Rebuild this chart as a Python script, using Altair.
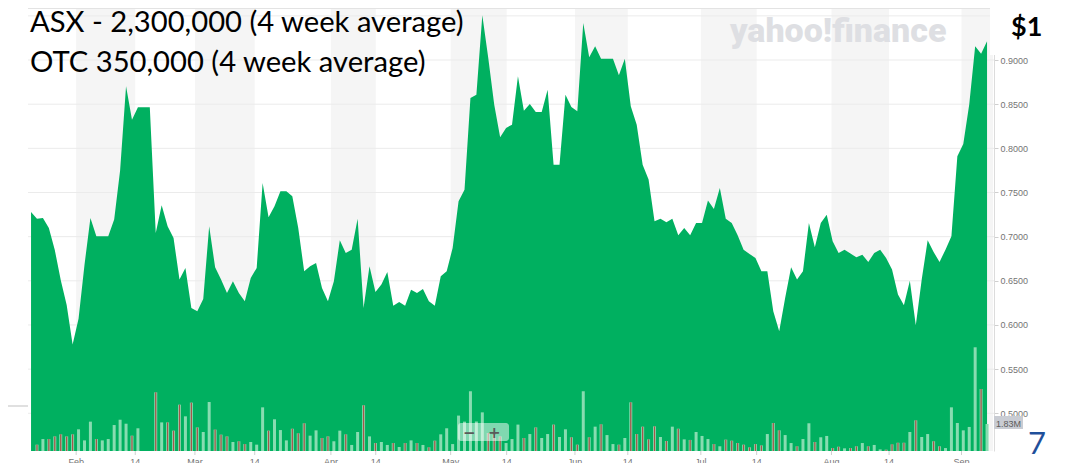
import altair as alt
import pandas as pd

# ---- data (trading-day index, price in $, volume in millions) ----
first_day = -1
prices = [
    0.728, 0.7204, 0.7212, 0.7098, 0.6849, 0.6510, 0.6227, 0.5778, 0.607, 0.668,
    0.7211, 0.7004, 0.7004, 0.7004, 0.7193, 0.7750, 0.8704, 0.8325, 0.8464, 0.8464,
    0.8464, 0.7042, 0.7355, 0.7117, 0.6985, 0.6514, 0.6646, 0.6193, 0.6155, 0.6295,
    0.7117, 0.6653, 0.6514, 0.6363, 0.6495, 0.6363, 0.6268, 0.6532, 0.6646, 0.7608,
    0.7219, 0.7344, 0.7514, 0.7514, 0.7457, 0.7098, 0.6608, 0.6664, 0.6702, 0.6419,
    0.6268, 0.6495, 0.6959, 0.6815, 0.6853, 0.7204, 0.6193, 0.6664, 0.6374, 0.6457,
    0.6600, 0.6219, 0.6261, 0.6219, 0.6400, 0.6363, 0.6408, 0.6268, 0.6219, 0.6551,
    0.6608, 0.6872, 0.7400, 0.7532, 0.8570, 0.8608, 0.9506, 0.9023, 0.8495, 0.8125,
    0.8231, 0.8268, 0.8815, 0.8427, 0.8502, 0.8412, 0.8412, 0.8664, 0.7815, 0.7815,
    0.8608, 0.8468, 0.8419, 0.9419, 0.9030, 0.9155, 0.9015, 0.9015, 0.9015, 0.8827,
    0.9015, 0.8476, 0.8268, 0.7815, 0.7646, 0.7174, 0.7204, 0.7163, 0.7204, 0.7015,
    0.7098, 0.7015, 0.7155, 0.7155, 0.7408, 0.7314, 0.7551, 0.7204, 0.7155, 0.7015,
    0.6853, 0.6804, 0.6759, 0.6608, 0.6608, 0.6155, 0.5929, 0.6306, 0.6653, 0.6514,
    0.6608, 0.7155, 0.6880, 0.7155, 0.7249, 0.6947, 0.6815, 0.6853, 0.6808, 0.6766,
    0.6796, 0.6713, 0.6815, 0.6853, 0.6759, 0.6627, 0.6344, 0.6223, 0.6502, 0.5997,
    0.6514, 0.6959, 0.6827, 0.6713, 0.6853, 0.7004, 0.7910, 0.8049, 0.8495, 0.9155,
    0.9072, 0.9212,
]
volumes_m = [
    0.0, 0.43, 0.81, 0.81, 0.99, 1.13, 0.99, 1.13, 1.47, 0.72,
    1.99, 0.81, 0.72, 0.81, 1.76, 2.12, 1.85, 1.04, 1.54, 0.0,
    0.0, 3.98, 1.94, 1.94, 1.38, 3.14, 2.35, 3.28, 1.60, 1.29,
    3.32, 1.45, 1.11, 0.99, 0.61, 0.66, 0.47, 0.61, 0.43, 2.96,
    1.38, 2.15, 1.42, 0.72, 1.51, 1.20, 1.88, 1.04, 1.40, 0.88,
    0.99, 0.66, 1.38, 1.13, 0.41, 1.29, 3.10, 0.99, 0.54, 0.61,
    0.41, 0.54, 0.27, 0.54, 0.72, 0.54, 0.41, 0.25, 0.70, 1.13,
    1.54, 0.47, 2.40, 1.99, 4.05, 2.00, 2.62, 1.22, 1.10, 0.99,
    0.54, 0.81, 1.79, 0.88, 1.15, 1.60, 0.88, 1.15, 1.79, 0.95,
    1.47, 0.93, 0.43, 4.05, 0.93, 1.65, 1.81, 1.08, 0.47, 0.43,
    0.88, 3.30, 1.15, 1.65, 0.79, 1.67, 0.95, 0.68, 1.65, 1.51,
    0.79, 0.75, 1.29, 1.02, 0.81, 0.47, 0.32, 0.77, 0.70, 0.54,
    0.43, 0.25, 0.47, 0.38, 1.15, 1.90, 1.40, 1.08, 0.54, 0.32,
    0.81, 1.88, 0.61, 0.93, 1.02, 0.20, 0.29, 0.18, 0.20, 0.32,
    0.54, 0.32, 0.41, 0.11, 0.09, 0.45, 0.56, 0.56, 1.29, 2.08,
    0.95, 1.15, 0.66, 0.32, 0.20, 2.96, 1.90, 1.40, 1.63, 7.03,
    4.20, 1.83,
]
tick_days = [6.6, 16.55, 26.6, 36.67, 49.5, 57.05, 69.67, 79.1, 90.6, 99.5,
             111.8, 121.2, 133.8, 143.5, 155.7]
tick_labels = ["Feb", "14", "Mar", "14", "Apr", "14", "May", "14", "Jun", "14",
               "Jul", "14", "Aug", "14", "Sep"]
band_start = [6.6, 26.6, 49.5, 69.67, 90.6, 111.8, 133.8, 155.7]
band_end = [16.55, 36.67, 57.05, 79.1, 99.5, 121.2, 143.5, 161.0]
price_ticks = [0.50, 0.55, 0.60, 0.65, 0.70, 0.75, 0.80, 0.85, 0.90]
grid_prices = [0.50, 0.55, 0.60, 0.65, 0.70, 0.75, 0.80, 0.85, 0.90, 0.95]
x_domain = [-0.67, 160.33]
price_domain = [0.4573, 0.9589]
vol_domain = [0, 30.03]
last_volume_label = "1.83M"
line1 = "ASX - 2,300,000 (4 week average)"
line2 = "OTC 350,000 (4 week average)"

W, H = 966, 443
GREEN = "#00b060"

days = list(range(first_day, first_day + len(prices)))
df = pd.DataFrame({"day": days, "price": prices, "volume": volumes_m})
df["down"] = df["price"] < df["price"].shift(1)
bands = pd.DataFrame({"start": band_start, "end": band_end})
grid = pd.DataFrame({"g": grid_prices})
xticks = pd.DataFrame({"d": tick_days, "lab": tick_labels})

xs = alt.Scale(domain=x_domain, nice=False, zero=False)
ps = alt.Scale(domain=price_domain, nice=False, zero=False)
vs = alt.Scale(domain=vol_domain, nice=False, zero=True)

band_layer = alt.Chart(bands).mark_rect(color="#f5f5f5", clip=True).encode(
    x=alt.X("start:Q", scale=xs, axis=None), x2="end:Q",
    y=alt.value(0), y2=alt.value(H))

grid_layer = alt.Chart(grid).mark_rule(color="#ebebeb", strokeWidth=1).encode(
    y=alt.Y("g:Q", scale=ps, axis=None), x=alt.value(0), x2=alt.value(W))

top_line = alt.Chart(pd.DataFrame({"a": [0]})).mark_rule(color="#e3e3e3").encode(
    y=alt.value(0.5), x=alt.value(0), x2=alt.value(W))

area = alt.Chart(df).mark_area(color=GREEN, clip=True, interpolate="linear").encode(
    x=alt.X("day:Q", scale=xs, axis=None),
    y=alt.Y("price:Q", scale=ps,
            axis=alt.Axis(orient="right", values=price_ticks, format=".4f", title=None,
                          grid=False, tickSize=4, tickColor="#cfcfcf", domainColor="#dcdcdc",
                          labelFont="Liberation Sans", labelFontSize=9, labelColor="#747474",
                          labelPadding=2, labelOverlap=False, labelFlush=False)))

bars = alt.Chart(df).mark_bar(color="#88dcb1", width=3, clip=True).encode(
    x=alt.X("day:Q", scale=xs, axis=None),
    y=alt.Y("volume:Q", scale=vs, axis=None))

down_bars = alt.Chart(df).transform_filter("datum.down").mark_bar(
    color="#a5564a", width=1.3, clip=True).encode(
    x=alt.X("day:Q", scale=xs, axis=None),
    y=alt.Y("volume:Q", scale=vs, axis=None))

# x axis ticks and labels drawn from the tick lists
xtick_marks = alt.Chart(xticks).mark_rule(color="#cfcfcf").encode(
    x=alt.X("d:Q", scale=xs, axis=None), y=alt.value(H), y2=alt.value(H + 4))
xtick_text = alt.Chart(xticks).mark_text(
    align="center", baseline="top", font="Liberation Sans", fontSize=9, color="#747474").encode(
    x=alt.X("d:Q", scale=xs, axis=None), y=alt.value(H + 7), text="lab:N")


def txt(s, x, y, size, color="#000000", font="Lato", weight="normal", **kw):
    return alt.Chart(pd.DataFrame({"t": [s]})).mark_text(
        align="left", baseline="alphabetic", fontSize=size, font=font,
        fontWeight=weight, color=color, **kw).encode(
        text="t:N", x=alt.value(x), y=alt.value(y))


watermark = txt("yahoo!finance", 702, 34, 34, color="#dedfe3", font="Roboto", weight=900)

zoom_box = alt.Chart(pd.DataFrame({"a": [0]})).mark_rect(
    color="#ffffff", opacity=0.5, cornerRadius=3).encode(
    x=alt.value(430), x2=alt.value(481), y=alt.value(415), y2=alt.value(433))
zoom_minus = txt("\u2212", 435, 430, 15, color="#5a5a5a", font="DejaVu Sans", weight="bold")
zoom_plus = txt("+", 460, 430, 15, color="#5a5a5a", font="DejaVu Sans", weight="bold")

vol_box = alt.Chart(pd.DataFrame({"a": [0]})).mark_rect(color="#c9ccd3").encode(
    x=alt.value(966), x2=alt.value(995), y=alt.value(408), y2=alt.value(421))
vol_text = txt(last_volume_label, 968, 418.5, 9, color="#5c5c5c", font="Liberation Sans")

white_box = alt.Chart(pd.DataFrame({"a": [0]})).mark_rect(color="#ffffff").encode(
    x=alt.value(962), x2=alt.value(1040), y=alt.value(-8), y2=alt.value(47))

left_line = alt.Chart(pd.DataFrame({"a": [0]})).mark_rule(color="#d6d6d6", strokeWidth=1.5).encode(
    y=alt.value(398), x=alt.value(-20), x2=alt.value(0))

t1 = txt(line1, 2, 24, 29.2, font="Lato")
t2 = txt(line2, 2, 63.5, 29.2, font="Lato")
dollar = txt("$1", 983, 28, 27, font="Lato", weight="bold")
page_no = txt("7", 1000, 446, 31, color="#1f4f9a", font="Lato")

chart = alt.layer(
    band_layer, grid_layer, top_line, area, bars, down_bars, xtick_marks, xtick_text,
    watermark, zoom_box, zoom_minus, zoom_plus, vol_box, vol_text, white_box, left_line,
    t1, t2, dollar, page_no,
).resolve_scale(y="independent").properties(
    width=W, height=H,
    autosize=alt.AutoSizeParams(type="none"),
    padding={"left": 20, "top": 0, "right": 60, "bottom": 12},
    background="#ffffff",
).configure_view(stroke=None)

chart.save("out.html", embed_options={"renderer": "svg", "actions": False})
